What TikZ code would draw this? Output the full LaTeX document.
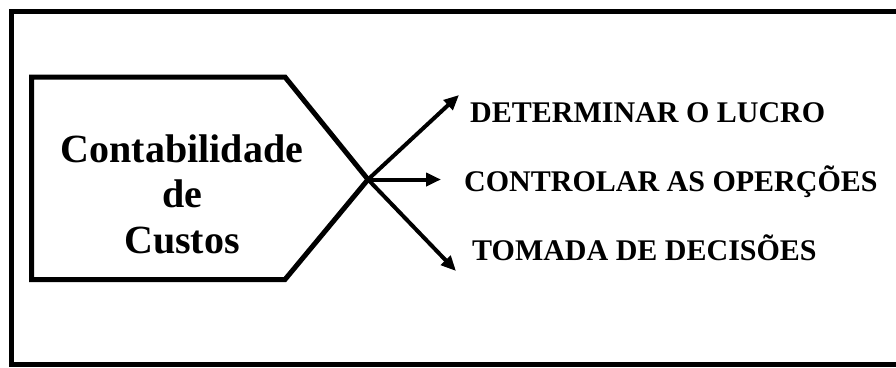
\documentclass[tikz,border=0pt]{standalone}
\usepackage{fontspec}
\setmainfont{Liberation Serif}
\usetikzlibrary{arrows.meta}
\begin{document}
\begin{tikzpicture}[x=1pt,y=-1pt,
  frame/.style={line width=5pt},
  penta/.style={line width=5pt, line join=miter},
  arr/.style={line width=4pt, -{Triangle[length=15pt,width=13pt]}},
  lbl/.style={font=\bfseries\fontsize{30}{36}\selectfont, anchor=base west, inner sep=0pt}
]
\useasboundingbox (0,0) rectangle (896,367);
\clip (0,0) rectangle (896,367);
\draw[frame] (11.5,11) rectangle (905,364.5);
\coordinate (A) at (368,179.5);
\draw[penta] (285,77) -- (31.5,77) -- (31.5,279.5) -- (285,279.5) -- (A) -- cycle;
\node[font=\bfseries\fontsize{40}{45.5}\selectfont, align=center, inner sep=0pt, anchor=base] (t1) at (182,162) {Contabilidade};
\node[font=\bfseries\fontsize{40}{45.5}\selectfont, inner sep=0pt, anchor=base] (t2) at (182,207.5) {de};
\node[font=\bfseries\fontsize{40}{45.5}\selectfont, inner sep=0pt, anchor=base] (t3) at (182,253) {Custos};
\coordinate (e1) at (459,95);
\coordinate (e2) at (441,179.5);
\coordinate (e3) at (456,271);
\draw[arr] (A) -- (e1);
\draw[arr] (A) -- (e2);
\draw[arr] (A) -- (e3);
\node[lbl] (l1) at (470,122) {DETERMINAR O LUCRO};
\node[lbl] (l2) at (464,191) {CONTROLAR AS OPERÇÕES};
\node[lbl] (l3) at (472,260) {TOMADA DE DECISÕES};
\end{tikzpicture}
\end{document}
